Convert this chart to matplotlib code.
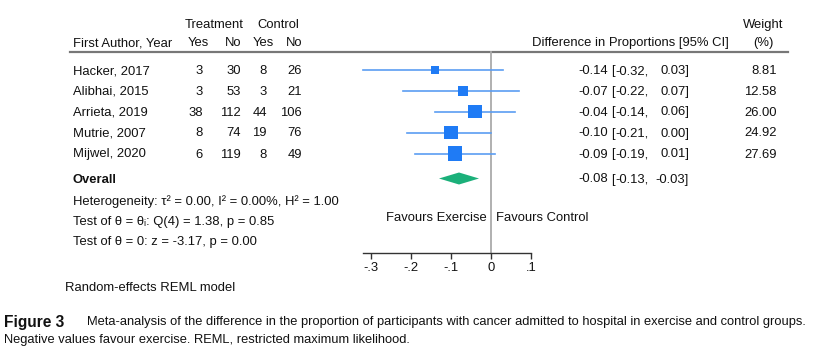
import matplotlib.pyplot as plt
from matplotlib.patches import Polygon

#################################
#####        DATA           #####
#################################

studies = ["Hacker, 2017", "Alibhai, 2015", "Arrieta, 2019", "Mutrie, 2007", "Mijwel, 2020"]
treat_yes = [3, 3, 38, 8, 6]
treat_no = [30, 53, 112, 74, 119]
ctrl_yes = [8, 3, 44, 19, 8]
ctrl_no = [26, 21, 106, 76, 49]
estimate = [-0.14, -0.07, -0.04, -0.10, -0.09]
ci_low = [-0.32, -0.22, -0.14, -0.21, -0.19]
ci_high = [0.03, 0.07, 0.06, 0.00, 0.01]
weight = [8.81, 12.58, 26.00, 24.92, 27.69]

overall_est = -0.08
overall_low = -0.13
overall_high = -0.03

ticks = [-0.3, -0.2, -0.1, 0, 0.1]
tick_labels = ["-.3", "-.2", "-.1", "0", ".1"]

heterogeneity = "Heterogeneity: \u03c4\u00b2 = 0.00, I\u00b2 = 0.00%, H\u00b2 = 1.00"
test_homog = "Test of \u03b8 = \u03b8\u1d62: Q(4) = 1.38, p = 0.85"
test_zero = "Test of \u03b8 = 0: z = -3.17, p = 0.00"
caption_1 = ("Meta-analysis of the difference in the proportion of participants with cancer "
             "admitted to hospital in exercise and control groups.")
caption_2 = "Negative values favour exercise. REML, restricted maximum likelihood."

##################################
#####        LAYOUT          #####
##################################

W, H = 817, 354
FONT = ["Liberation Sans", "DejaVu Sans"]
FS = 9.4
row_y = [70, 91, 111.5, 132.5, 153.5]
overall_y = 178.5
axis_y = 253
# effect-size -> pixel: x = 491 + 400 * d
x0_px, px_per_unit = 491, 400

fig = plt.figure(figsize=(W / 100, H / 100), dpi=100)
fig.patch.set_facecolor("white")

# text layer in pixel coordinates
tx = fig.add_axes([0, 0, 1, 1])
tx.set_xlim(0, W)
tx.set_ylim(H, 0)
tx.axis("off")

# forest layer in effect-size coordinates
ax = fig.add_axes([0, 0, 1, 1])
ax.set_xlim(-x0_px / px_per_unit, (W - x0_px) / px_per_unit)
ax.set_ylim(H, 0)
ax.patch.set_alpha(0)
for s in ["top", "left", "right"]:
    ax.spines[s].set_visible(False)
ax.spines["bottom"].set_position(("data", axis_y))
ax.spines["bottom"].set_bounds(min(ci_low), max(ticks))
ax.spines["bottom"].set_color("#333333")
ax.spines["bottom"].set_linewidth(1.0)
ax.set_yticks([])
ax.set_xticks(ticks)
ax.set_xticklabels(tick_labels, family=FONT, fontsize=FS, color="#111111")
ax.tick_params(axis="x", direction="out", length=4, width=1.0, color="#333333", pad=2.5)

# line of no effect
ax.plot([0, 0], [52, axis_y], color="#aaaaaa", lw=1.3, zorder=1)

# study CIs and squares (area proportional to weight)
for i in range(len(studies)):
    ax.plot([ci_low[i], ci_high[i]], [row_y[i], row_y[i]], color="#5B9DF2", lw=1.2, zorder=2)
    side = 1.93 * weight[i] ** 0.5
    ax.scatter([estimate[i]], [row_y[i]], marker="s", s=side ** 2, color="#1F7BF5",
               edgecolor="none", zorder=3)

# overall diamond
diamond = Polygon([(overall_low, overall_y), (overall_est, overall_y - 6),
                   (overall_high, overall_y), (overall_est, overall_y + 6)],
                  closed=True, facecolor="#1BB07A", edgecolor="none", zorder=3)
ax.add_patch(diamond)


def t(x, y, s, ha="left", **kw):
    kw.setdefault("family", FONT)
    kw.setdefault("fontsize", FS)
    return tx.text(x, y, s, ha=ha, va="center", color="#111111", **kw)


# header
t(214, 25, "Treatment", ha="center")
t(278, 25, "Control", ha="center")
t(763, 25, "Weight", ha="center")
t(73, 43, "First Author, Year")
t(198, 43, "Yes", ha="center")
t(241, 43, "No", ha="right")
t(263, 43, "Yes", ha="center")
t(302, 43, "No", ha="right")
t(729, 43, "Difference in Proportions [95% CI]", ha="right")
t(763, 43, "(%)", ha="center")
tx.plot([70, 788], [52, 52], color="#777777", lw=1.6)

# rows
for i, name in enumerate(studies):
    y = row_y[i] + 1
    t(73, y, name)
    t(203, y, str(treat_yes[i]), ha="right")
    t(241, y, str(treat_no[i]), ha="right")
    t(267, y, str(ctrl_yes[i]), ha="right")
    t(302, y, str(ctrl_no[i]), ha="right")
    t(608, y, f"{estimate[i]:.2f}", ha="right")
    t(611, y, "[")
    t(649, y, f"{ci_low[i]:.2f},", ha="right")
    t(689, y, f"{ci_high[i]:.2f}]", ha="right")
    t(777, y, f"{weight[i]:.2f}", ha="right")

t(73, overall_y + 1.5, "Overall", weight="bold")
t(608, overall_y + 1, f"{overall_est:.2f}", ha="right")
t(611, overall_y + 1, "[")
t(649, overall_y + 1, f"{overall_low:.2f},", ha="right")
t(689, overall_y + 1, f"{overall_high:.2f}]", ha="right")

t(73, 202, heterogeneity)
t(73, 222, test_homog)
t(73, 242, test_zero)
t(487, 218, "Favours Exercise", ha="right")
t(496, 218, "Favours Control")
t(65, 288, "Random-effects REML model")

# caption (no condensed font available, so shrink each line to the reference width)
t(4, 322, "Figure 3", weight="bold", fontsize=11.2)
cap1 = t(87, 322, caption_1, fontsize=10)
cap2 = t(4, 340, caption_2, fontsize=10)
renderer = fig.canvas.get_renderer()
for txt, target in [(cap1, 812 - 87), (cap2, 412 - 4)]:
    width = txt.get_window_extent(renderer).width
    txt.set_fontsize(10 * target / width)

plt.savefig("out.png", dpi=100, facecolor="white")
